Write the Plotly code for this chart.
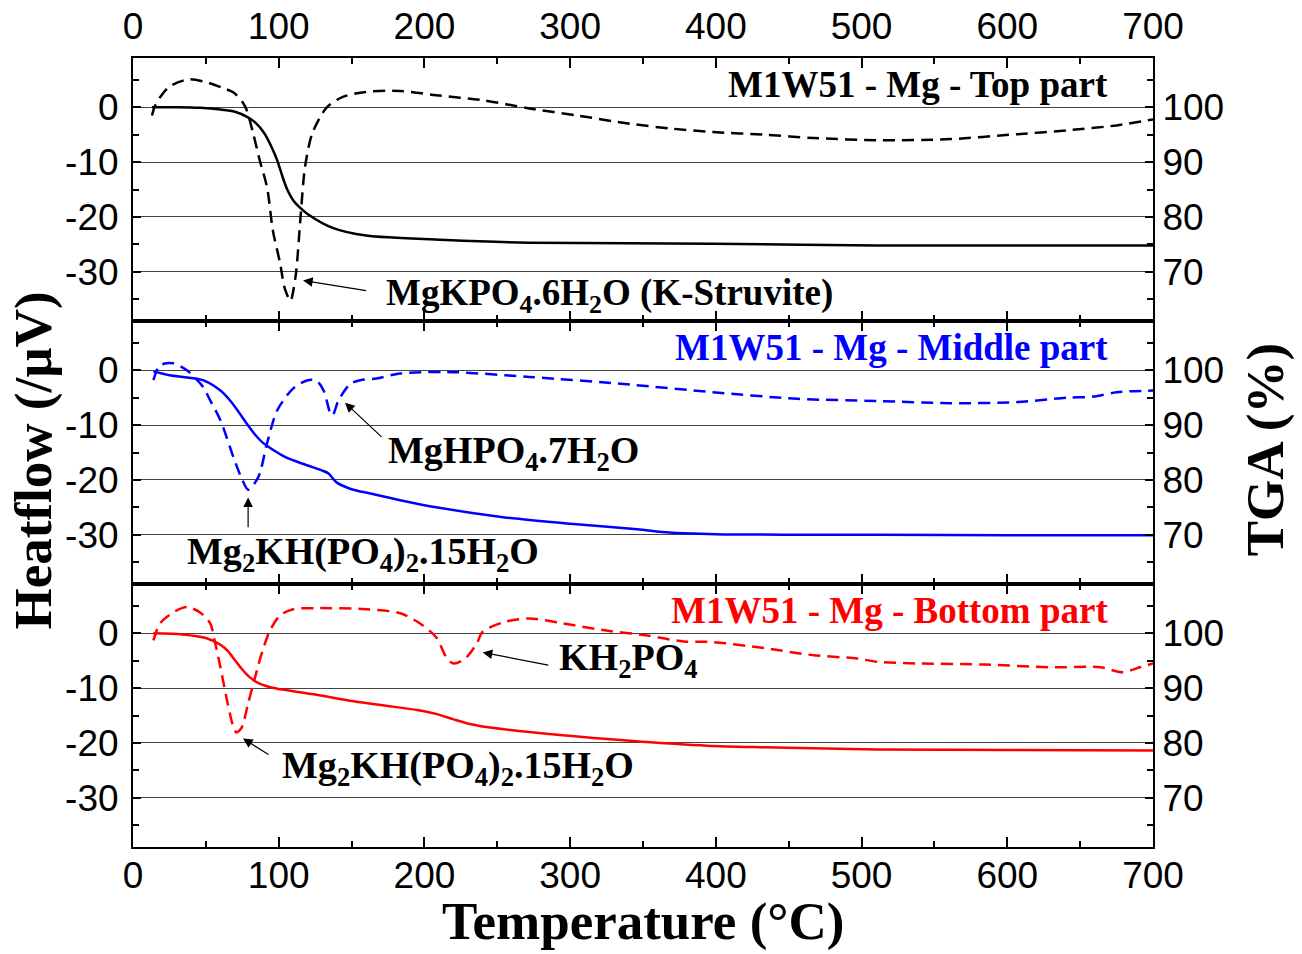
import plotly.graph_objects as go

# ---------------- data ----------------
# Top part (black)
t_top_hf = [13, 15, 18.5, 25, 38, 50, 62, 69, 75, 78, 82.5, 87, 92, 96, 101, 104, 108, 111.5, 115, 118, 123, 133,
            144, 160, 183, 208, 240, 272, 305, 341, 370, 398, 433, 467, 511, 561, 607, 641, 675, 700]
hf_top = [-1.5, 0.2, 1.8, 3.8, 5.1, 4.6, 3.5, 2.7, 1.0, -0.5, -4.8, -9.7, -14.6, -22.5, -28.5, -32.9, -35.3, -31, -20,
          -11, -4.8, 0, 1.9, 2.8, 3.0, 2.2, 1.3, -0.2, -1.5, -3, -3.9, -4.5, -5.0, -5.6, -6, -5.8, -4.9, -4.2, -3.3,
          -2.2]
t_top_tga = [13, 30, 46, 60, 70, 78, 84, 90, 95, 99, 103, 106, 110, 115, 120, 137, 160, 215, 272, 398, 511, 700]
tga_top = [100, 100, 99.9, 99.6, 99.2, 98.3, 97.2, 95.3, 92.8, 90.3, 87, 84.9, 83, 81.6, 80.5, 78, 76.6, 75.8, 75.3,
           75.1, 74.8, 74.8]

# Middle part (blue)
t_mid_hf = [14, 18.5, 27.5, 37, 48, 53, 60, 69, 75, 79, 86, 92, 99, 110, 120, 126, 131, 135, 137, 141, 149, 156,
            167, 183, 215, 272, 341, 398, 456, 511, 561, 607, 641, 659, 675, 700]
hf_mid = [-1.8, 0.9, 1.3, 0, -3, -5.5, -9.1, -15.9, -20, -21.8, -19.5, -13.3, -7.3, -3.3, -1.8, -1.9, -3.8, -7.5,
          -8.2, -5.5, -2.5, -1.8, -1.5, -0.6, -0.3, -1.2, -2.6, -4, -5.2, -5.6, -6, -5.8, -5, -4.8, -4, -3.7]
t_mid_tga = [14, 25, 48, 60, 66.6, 72, 78, 84, 89, 96, 105, 118, 130, 134, 140, 150, 163, 185, 208, 254, 300, 346,
             368, 400, 450, 511, 600, 700]
tga_mid = [99.8, 99.1, 98.2, 96.3, 94.5, 92.6, 90.3, 88.2, 86.8, 85.5, 84.1, 82.8, 81.7, 81.2, 79.5, 78.3, 77.5, 76.2,
           75, 73.2, 72, 71, 70.4, 70.1, 70, 70, 69.9, 69.9]

# Bottom part (red)
t_bot_hf = [14, 18.5, 27.5, 37, 46, 53, 56, 60, 64.5, 69, 71, 74.6, 79, 85, 89, 94, 101, 110, 126, 160, 183, 197,
            208, 215.5, 220, 228, 236, 240, 254, 272, 295, 325, 353, 378, 398, 433, 467, 497, 511, 538, 584, 629,
            664, 679, 691, 700]
hf_bot = [-1.3, 1.8, 3.8, 4.8, 3.8, 1.8, -1.3, -6.2, -12.2, -17.2, -18.1, -17.2, -12.8, -6.8, -3.1, 0.5, 3.3, 4.4,
          4.6, 4.4, 3.7, 1.8, -0.7, -4.6, -5.5, -4.6, -1.8, 0.3, 2, 2.7, 1.8, 0.5, -0.4, -1.5, -1.6, -2.7, -4, -4.6,
          -5.2, -5.5, -5.7, -6.2, -6.2, -7.1, -6.2, -5.5]
t_bot_tga = [14, 34, 50.5, 60, 65, 70, 75, 80, 87, 95, 101, 126, 147, 170, 195, 208, 220, 232, 245, 295, 341, 394,
             433, 511, 600, 700]
tga_bot = [100, 99.8, 99.1, 97.9, 96.8, 95.1, 93.4, 92.0, 90.8, 90.1, 89.8, 88.8, 87.8, 86.9, 86.0, 85.3, 84.3, 83.4,
           82.8, 81.4, 80.4, 79.5, 79.2, 78.8, 78.7, 78.6]

# tick labels
x_ticks = [0, 100, 200, 300, 400, 500, 600, 700]
x_ticklabels = ["0", "100", "200", "300", "400", "500", "600", "700"]
hf_ticks = [-30, -20, -10, 0]
hf_ticklabels = ["-30", "-20", "-10", "0"]
tga_ticks = [70, 80, 90, 100]
tga_ticklabels = ["70", "80", "90", "100"]

panel_titles = ["M1W51 - Mg - Top part", "M1W51 - Mg - Middle part", "M1W51 - Mg - Bottom part"]
colors = ["#000000", "#0000FF", "#FF0000"]

# ---------------- figure ----------------
fig = go.Figure()
series = [(t_top_hf, hf_top, t_top_tga, tga_top),
          (t_mid_hf, hf_mid, t_mid_tga, tga_mid),
          (t_bot_hf, hf_bot, t_bot_tga, tga_bot)]

for i, (th, hf, tt, tg) in enumerate(series):
    xa = "x" if i == 0 else f"x{i+1}"
    ya = "y" if i == 0 else f"y{i+1}"
    yr = f"y{i+4}"
    fig.add_trace(go.Scatter(x=th, y=hf, xaxis=xa, yaxis=ya, mode="lines",
                             line=dict(color=colors[i], width=2.5, dash="12px,7px", shape="spline", smoothing=0.8),
                             showlegend=False, hoverinfo="skip"))
    fig.add_trace(go.Scatter(x=tt, y=tg, xaxis=xa, yaxis=yr, mode="lines",
                             line=dict(color=colors[i], width=2.5, shape="spline", smoothing=0.8),
                             showlegend=False, hoverinfo="skip"))

tick_font = dict(family="Liberation Sans, Arial, sans-serif", size=37, color="black")
domains = [[2/3, 1.0], [1/3, 2/3], [0.0, 1/3]]

layout = dict(
    width=1302, height=954,
    margin=dict(l=133, r=149, t=58, b=107, autoexpand=False),
    paper_bgcolor="white", plot_bgcolor="white",
    showlegend=False,
)

for i in range(3):
    xk = "xaxis" if i == 0 else f"xaxis{i+1}"
    yk = "yaxis" if i == 0 else f"yaxis{i+1}"
    rk = f"yaxis{i+4}"
    yname = "y" if i == 0 else f"y{i+1}"
    xname = "x" if i == 0 else f"x{i+1}"
    layout[xk] = dict(
        range=[0, 700], tickmode="array", tickvals=x_ticks, ticktext=x_ticklabels, anchor=yname,
        side="top" if i == 0 else "bottom", automargin=False,
        showticklabels=(i != 1), tickfont=tick_font, ticklabelstandoff=-5 if i == 2 else 2,
        ticks="inside", ticklen=10, tickwidth=1.5, tickcolor="black",
        minor=dict(dtick=50, tick0=0, ticks="inside", ticklen=6, tickwidth=1.5, tickcolor="black", showgrid=False),
        showline=True, linewidth=2, linecolor="black", mirror="ticks",
        showgrid=False, zeroline=False,
    )
    if i > 0:
        layout[xk]["matches"] = "x"
    layout[yk] = dict(
        domain=domains[i], range=[-39, 9], tickmode="array", tickvals=hf_ticks, ticktext=hf_ticklabels,
        anchor=xname, automargin=False,
        tickfont=tick_font, ticklabelstandoff=5,
        ticks="inside", ticklen=8, tickwidth=1.5, tickcolor="black",
        minor=dict(dtick=5, tick0=0, ticks="inside", ticklen=6, tickwidth=1.5, tickcolor="black", showgrid=False),
        showline=True, linewidth=2, linecolor="black", mirror=True,
        showgrid=True, gridcolor="#444444", gridwidth=1, zeroline=False,
    )
    layout[rk] = dict(
        range=[61, 109], tickmode="array", tickvals=tga_ticks, ticktext=tga_ticklabels,
        anchor=xname, overlaying=yname, side="right", automargin=False,
        tickfont=tick_font, ticklabelstandoff=0,
        ticks="inside", ticklen=8, tickwidth=1.5, tickcolor="black",
        minor=dict(dtick=5, tick0=0, ticks="inside", ticklen=6, tickwidth=1.5, tickcolor="black", showgrid=False),
        showline=True, linewidth=2, linecolor="black",
        showgrid=False, zeroline=False,
    )

fig.update_layout(**layout)

serif = "Liberation Serif, Times New Roman, serif"
ann = []
# panel titles
for i in range(3):
    xr = "x" if i == 0 else f"x{i+1}"
    yr = "y" if i == 0 else f"y{i+1}"
    ann.append(dict(x=670.5, y=4.2, xref=xr, yref=yr, xanchor="right", yanchor="middle",
                    text=f"<b>{panel_titles[i]}</b>", showarrow=False,
                    font=dict(family=serif, size=37, color=colors[i])))

def label(txt, x, y, xr, yr, size=38):
    ann.append(dict(x=x, y=y, xref=xr, yref=yr, xanchor="left", yanchor="middle", text=f"<b>{txt}</b>",
                    showarrow=False, font=dict(family=serif, size=size, color="black")))

def arrow(x, y, ax, ay, xr, yr):
    ann.append(dict(x=x, y=y, ax=ax, ay=ay, xref=xr, yref=yr, axref=xr, ayref=yr, text="",
                    showarrow=True, arrowhead=2, arrowsize=1.6, arrowwidth=1.2, arrowcolor="black",
                    standoff=0, startstandoff=0))

label("MgKPO<sub>4</sub>.6H<sub>2</sub>O (K-Struvite)", 172, -34.4, "x", "y", size=37)
arrow(116.7, -31.6, 161, -33.5, "x", "y")

label("MgHPO<sub>4</sub>.7H<sub>2</sub>O", 173.5, -15, "x2", "y2")
arrow(145.5, -5.9, 171.6, -12.4, "x2", "y2")
label("Mg<sub>2</sub>KH(PO<sub>4</sub>)<sub>2</sub>.15H<sub>2</sub>O", 36, -33.5, "x2", "y2")
arrow(79, -23.2, 79, -28.9, "x2", "y2")

label("KH<sub>2</sub>PO<sub>4</sub>", 291, -4.9, "x3", "y3")
arrow(240, -3.5, 286, -5.85, "x3", "y3")
label("Mg<sub>2</sub>KH(PO<sub>4</sub>)<sub>2</sub>.15H<sub>2</sub>O", 101, -24.5, "x3", "y3")
arrow(75.5, -19.2, 94, -22.3, "x3", "y3")

# axis titles
ann.append(dict(x=0.5, y=-0.095, xref="paper", yref="paper", xanchor="center", yanchor="middle",
                text="<b>Temperature (°C)</b>", showarrow=False, font=dict(family=serif, size=53, color="black")))
ann.append(dict(x=-0.098, y=0.49, xref="paper", yref="paper", xanchor="center", yanchor="middle",
                text="<b>Heatflow (/µV)</b>", textangle=-90, showarrow=False,
                font=dict(family=serif, size=53, color="black")))
ann.append(dict(x=1.11, y=0.503, xref="paper", yref="paper", xanchor="center", yanchor="middle",
                text="<b>TGA (%)</b>", textangle=-90, showarrow=False,
                font=dict(family=serif, size=53, color="black")))

fig.update_layout(annotations=ann)
fig.write_html("out.html")
